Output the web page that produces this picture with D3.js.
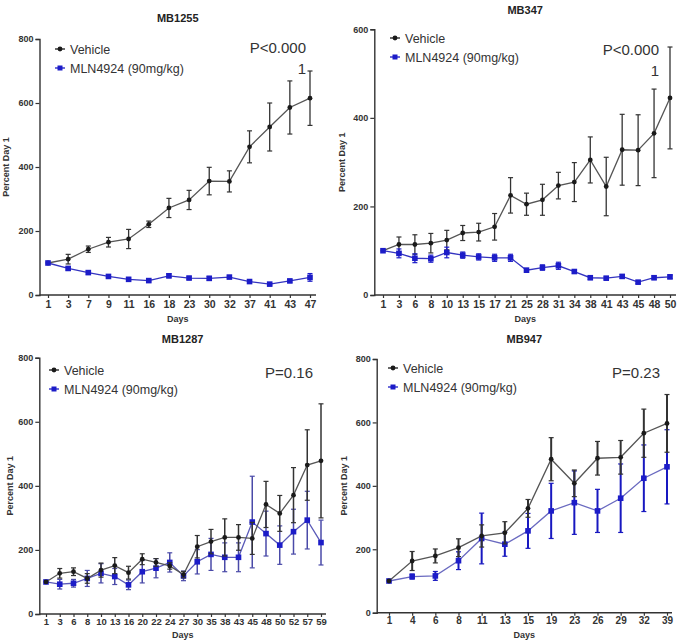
<!DOCTYPE html>
<html><head><meta charset="utf-8">
<script src="https://cdn.jsdelivr.net/npm/d3@7"></script>
<style>body{margin:0;background:#fff}svg{display:block}text{font-family:"Liberation Sans",Arial,sans-serif}</style>
</head><body>
<svg id="c" width="681" height="642"></svg>
<script>
// ---- DATA ----
const seriesNames = ["Vehicle", "MLN4924 (90mg/kg)"];
const yTicks800 = [0, 200, 400, 600, 800];
const yTicks600 = [0, 200, 400, 600];

const p1Title = "MB1255", p1P = ["P<0.000", "1"];
const p1Days = ["1","3","7","9","11","16","18","23","30","32","37","41","43","47"];
const p1Veh = [100,112,143,165,175,221,272,297,356,355,463,525,586,615];
const p1VehErr = [0,15,10,15,30,10,30,30,43,33,50,75,83,85];
const p1Mln = [100,83,70,58,49,45,60,53,52,56,42,34,44,55];
const p1MlnErr = [0,5,5,4,4,4,6,4,6,4,4,3,4,12];

const p2Title = "MB347", p2P = ["P<0.000", "1"];
const p2Days = ["1","3","6","8","10","13","15","17","21","25","28","31","34","38","41","43","45","48","50"];
const p2Veh = [100,114,114,117,124,140,142,154,225,205,215,247,255,305,245,328,327,365,445];
const p2VehErr = [0,17,22,22,22,17,20,30,40,25,35,30,44,52,66,80,80,100,115];
const p2Mln = [100,94,83,82,96,90,86,84,84,56,62,66,53,39,38,42,29,39,41];
const p2MlnErr = [0,10,10,8,12,7,7,8,8,4,6,8,4,4,3,4,3,4,4];

const p3Title = "MB1287", p3P = ["P=0.16"];
const p3Days = ["1","3","6","8","10","13","16","20","22","24","27","30","35","38","43","45","48","50","52","57","59"];
const p3Veh = [100,127,132,111,137,151,129,171,161,150,123,210,226,239,239,236,342,314,371,465,478];
const p3VehErr = [0,15,12,15,22,25,20,17,12,10,10,35,38,58,40,50,72,56,86,110,178];
const p3Mln = [100,93,96,111,127,117,91,132,143,161,119,163,186,177,177,287,251,215,257,293,223];
const p3MlnErr = [0,15,12,25,30,25,15,35,30,30,15,38,50,45,45,143,70,60,70,90,70];

const p4Title = "MB947", p4P = ["P=0.23"];
const p4Days = ["1","4","6","8","11","13","15","19","23","26","29","32","39"];
const p4Veh = [100,163,179,205,242,252,329,484,408,487,490,566,597];
const p4VehErr = [0,30,22,28,35,35,28,68,42,53,53,76,91];
const p4Mln = [100,114,116,164,234,216,258,321,347,321,361,424,460];
const p4MlnErr = [0,8,14,28,80,38,55,87,100,68,108,105,117];

// ---- DRAW ----
const svg = d3.select("#c");
const BLACK = "#1a1a1a", BLUE = "#1c1cc8";

function panel(cfg) {
  const g = svg.append("g");
  const x = d3.scalePoint().domain(cfg.days).range([cfg.x0, cfg.x1]);
  const y = d3.scaleLinear().domain([0, cfg.ymax]).range([cfg.yb, cfg.yt]);

  // y axis
  const ya = g.append("g").attr("transform", `translate(${cfg.ax},0)`)
    .call(d3.axisLeft(y).tickValues(cfg.yTicks).tickSize(4).tickPadding(2));
  ya.select(".domain").attr("stroke", "#333").attr("stroke-width", 1.4);
  ya.selectAll(".tick line").attr("stroke", "#333").attr("stroke-width", 1.2);
  ya.selectAll(".tick text").attr("font-size", 9).attr("font-weight", "bold").attr("fill", "#333")
    .attr("font-family", '"Liberation Sans",Arial,sans-serif');

  // x axis
  const xa = g.append("g").attr("transform", `translate(0,${cfg.yb})`)
    .call(d3.axisBottom(x).tickSize(3).tickPadding(cfg.xpad));
  xa.select(".domain").remove();
  xa.append("line").attr("x1", cfg.ax).attr("x2", cfg.axEnd).attr("stroke", "#333").attr("stroke-width", 1.4);
  xa.selectAll(".tick line").attr("stroke", "#333").attr("stroke-width", 1.2);
  xa.selectAll(".tick text").attr("font-size", cfg.xfs).attr("font-weight", "bold").attr("fill", "#333")
    .attr("font-family", '"Liberation Sans",Arial,sans-serif');

  // labels
  g.append("text").attr("x", (cfg.ax + cfg.axEnd) / 2).attr("y", cfg.titleY).attr("text-anchor", "middle")
    .attr("font-size", 11).attr("font-weight", "bold").attr("fill", "#222").text(cfg.title);
  g.append("text").attr("x", (cfg.ax + cfg.axEnd) / 2).attr("y", cfg.daysY).attr("text-anchor", "middle")
    .attr("font-size", 9).attr("font-weight", "bold").attr("fill", "#333").text("Days");
  g.append("text").attr("transform", `translate(${cfg.ylabX},${(cfg.yb + cfg.yt) / 2}) rotate(-90)`)
    .attr("text-anchor", "middle").attr("font-size", 9).attr("font-weight", "bold").attr("fill", "#333")
    .text("Percent Day 1");

  const series = [
    {vals: cfg.veh, err: cfg.vehErr, color: BLACK, line: "#555", ecolor: "#333", sq: false},
    {vals: cfg.mln, err: cfg.mlnErr, color: BLUE, line: cfg.blueLine, ecolor: cfg.blueErr, sq: true}
  ];
  const order = cfg.blueOnTop ? [0, 1] : [1, 0];
  order.forEach(i => {
    const s = series[i];
    const pts = cfg.days.map((d, k) => ({d, v: s.vals[k], e: s.err[k]}));
    g.append("path").datum(pts)
      .attr("d", d3.line().x(p => x(p.d)).y(p => y(p.v)))
      .attr("fill", "none").attr("stroke", s.line).attr("stroke-width", 1.3);
    const eb = g.append("g");
    pts.filter(p => p.e > 0).forEach(p => {
      const cx = x(p.d);
      eb.append("line").attr("x1", cx).attr("x2", cx).attr("y1", y(p.v - p.e)).attr("y2", y(p.v + p.e))
        .attr("stroke", s.ecolor).attr("stroke-width", cfg.ew);
      [p.v - p.e, p.v + p.e].forEach(v => eb.append("line").attr("x1", cx - 2.5).attr("x2", cx + 2.5)
        .attr("y1", y(v)).attr("y2", y(v)).attr("stroke", s.ecolor).attr("stroke-width", 1.2));
    });
    if (s.sq) {
      g.append("g").selectAll("rect").data(pts).join("rect")
        .attr("x", p => x(p.d) - 2.8).attr("y", p => y(p.v) - 2.8).attr("width", 5.6).attr("height", 5.6)
        .attr("fill", s.color);
    } else {
      g.append("g").selectAll("circle").data(pts).join("circle")
        .attr("cx", p => x(p.d)).attr("cy", p => y(p.v)).attr("r", 2.4).attr("fill", s.color);
    }
  });

  // legend
  seriesNames.forEach((name, i) => {
    const ly = cfg.legY + i * cfg.legGap;
    const c = i === 0 ? BLACK : BLUE;
    g.append("line").attr("x1", cfg.legX - 5).attr("x2", cfg.legX + 5).attr("y1", ly).attr("y2", ly)
      .attr("stroke", c).attr("stroke-width", 1.3);
    if (i === 0) g.append("circle").attr("cx", cfg.legX).attr("cy", ly).attr("r", 2.4).attr("fill", c);
    else g.append("rect").attr("x", cfg.legX - 2.5).attr("y", ly - 2.5).attr("width", 5).attr("height", 5).attr("fill", c);
    g.append("text").attr("x", cfg.legX + 10).attr("y", ly + 4.5).attr("font-size", 12.5).attr("fill", "#333")
      .text(name);
  });

  // p value
  cfg.p.forEach((t, i) => g.append("text").attr("x", cfg.pX).attr("y", cfg.pY + i * 21)
    .attr("text-anchor", "end").attr("font-size", 15).attr("fill", "#333")
    .attr("font-family", '"Open Sans","Liberation Sans",Arial,sans-serif').text(t));
}

panel({title: p1Title, p: p1P, days: p1Days, veh: p1Veh, vehErr: p1VehErr, mln: p1Mln, mlnErr: p1MlnErr,
  x0: 48, x1: 310, ax: 39.5, axEnd: 316, yb: 295, yt: 39, ymax: 800, yTicks: yTicks800, xfs: 10.5, xpad: 3,
  titleY: 22, daysY: 322, ylabX: 9, legX: 60, legY: 49, legGap: 19, pX: 306, pY: 53,
  blueLine: "#3434c0", blueErr: BLUE, ew: 1.3, blueOnTop: true});
panel({title: p2Title, p: p2P, days: p2Days, veh: p2Veh, vehErr: p2VehErr, mln: p2Mln, mlnErr: p2MlnErr,
  x0: 383, x1: 670, ax: 374.3, axEnd: 676, yb: 295, yt: 29.3, ymax: 600, yTicks: yTicks600, xfs: 10.5, xpad: 3,
  titleY: 14, daysY: 322, ylabX: 345, legX: 395, legY: 38, legGap: 19, pX: 659, pY: 55,
  blueLine: "#3434c0", blueErr: BLUE, ew: 1.3, blueOnTop: true});
panel({title: p3Title, p: p3P, days: p3Days, veh: p3Veh, vehErr: p3VehErr, mln: p3Mln, mlnErr: p3MlnErr,
  x0: 46, x1: 321, ax: 39.3, axEnd: 326, yb: 614, yt: 357.7, ymax: 800, yTicks: yTicks800, xfs: 9.5, xpad: 1,
  titleY: 343, daysY: 638, ylabX: 13, legX: 54, legY: 370, legGap: 19, pX: 313, pY: 378,
  blueLine: "#5a5ab8", blueErr: "#4a4aa8", ew: 1.5, blueOnTop: false});
panel({title: p4Title, p: p4P, days: p4Days, veh: p4Veh, vehErr: p4VehErr, mln: p4Mln, mlnErr: p4MlnErr,
  x0: 389, x1: 667, ax: 376.7, axEnd: 672, yb: 612.7, yt: 359, ymax: 800, yTicks: yTicks800, xfs: 10, xpad: 1,
  titleY: 343, daysY: 638, ylabX: 347, legX: 393, legY: 368, legGap: 19, pX: 660, pY: 378,
  blueLine: "#6a6ac0", blueErr: "#1818c0", ew: 2, blueOnTop: false});
</script>
</body></html>
